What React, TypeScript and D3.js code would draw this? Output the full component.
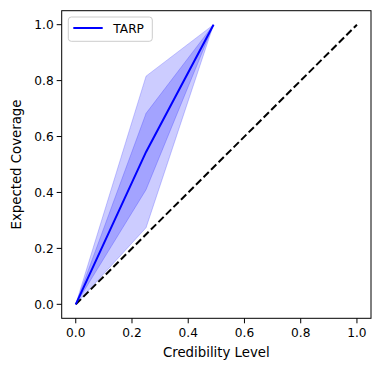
import React from 'react';
import * as d3 from 'd3';

// credibility levels and coverage values
const credibility = [0.0, 0.25, 0.49];
const coverage = [0.0, 0.545, 1.0];
const outerLower = [0.0, 0.274, 1.0];
const outerUpper = [0.0, 0.816, 1.0];
const innerLower = [0.0, 0.41, 1.0];
const innerUpper = [0.0, 0.683, 1.0];
const diagonal = [0.0, 1.0];
const ticks = [0.0, 0.2, 0.4, 0.6, 0.8, 1.0];

const W = 381;
const H = 371;
const margin = { left: 61.7, right: 10, top: 10.7, bottom: 52.7 };
const font = '"DejaVu Sans", sans-serif';

export default function App() {
  const x = d3
    .scaleLinear()
    .domain([-0.05, 1.05])
    .range([margin.left, W - margin.right]);
  const y = d3
    .scaleLinear()
    .domain([-0.05, 1.05])
    .range([H - margin.bottom, margin.top]);

  const band = d3
    .area<number>()
    .x((_, i) => x(credibility[i]));
  const outerPath = band
    .y0((_, i) => y(outerLower[i]))
    .y1((_, i) => y(outerUpper[i]))(credibility) as string;
  const innerPath = band
    .y0((_, i) => y(innerLower[i]))
    .y1((_, i) => y(innerUpper[i]))(credibility) as string;
  const linePath = d3
    .line<number>()
    .x((d) => x(d))
    .y((_, i) => y(coverage[i]))(credibility) as string;
  const diagPath = d3
    .line<number>()
    .x((d) => x(d))
    .y((d) => y(d))(diagonal) as string;

  const x0 = margin.left;
  const x1 = W - margin.right;
  const y0 = H - margin.bottom;
  const y1 = margin.top;

  return (
    <svg
      width={W}
      height={H}
      style={{ position: 'absolute', left: 0, top: 0, background: '#fff' }}
      fontFamily={font}
    >
      <path d={outerPath} fill="blue" fillOpacity={0.2} stroke="blue" strokeOpacity={0.2} strokeWidth={1} />
      <path d={innerPath} fill="blue" fillOpacity={0.2} stroke="blue" strokeOpacity={0.2} strokeWidth={1} />
      <path d={diagPath} fill="none" stroke="black" strokeWidth={2} strokeDasharray="7.4,3.2" />
      <path d={linePath} fill="none" stroke="blue" strokeWidth={2} />

      <rect x={x0} y={y1} width={x1 - x0} height={y0 - y1} fill="none" stroke="black" strokeWidth={1} />

      {ticks.map((t) => (
        <g key={'x' + t}>
          <line x1={x(t)} x2={x(t)} y1={y0} y2={y0 + 5} stroke="black" />
          <text x={x(t)} y={y0 + 19} textAnchor="middle" fontSize={12.2}>
            {t.toFixed(1)}
          </text>
        </g>
      ))}
      {ticks.map((t) => (
        <g key={'y' + t}>
          <line x1={x0 - 5} x2={x0} y1={y(t)} y2={y(t)} stroke="black" />
          <text x={x0 - 8} y={y(t) + 4.4} textAnchor="end" fontSize={12.2}>
            {t.toFixed(1)}
          </text>
        </g>
      ))}

      <text x={(x0 + x1) / 2} y={357} textAnchor="middle" fontSize={13.3}>
        Credibility Level
      </text>
      <text
        transform={`translate(21,${(y0 + y1) / 2}) rotate(-90)`}
        textAnchor="middle"
        fontSize={13.3}
      >
        Expected Coverage
      </text>

      <rect x={68.3} y={17} width={84} height={24.3} rx={3} fill="white" fillOpacity={0.8} stroke="#ccc" />
      <line x1={73.3} x2={102.7} y1={28} y2={28} stroke="blue" strokeWidth={2} />
      <text x={113.3} y={32.6} fontSize={12.2}>
        TARP
      </text>
    </svg>
  );
}
